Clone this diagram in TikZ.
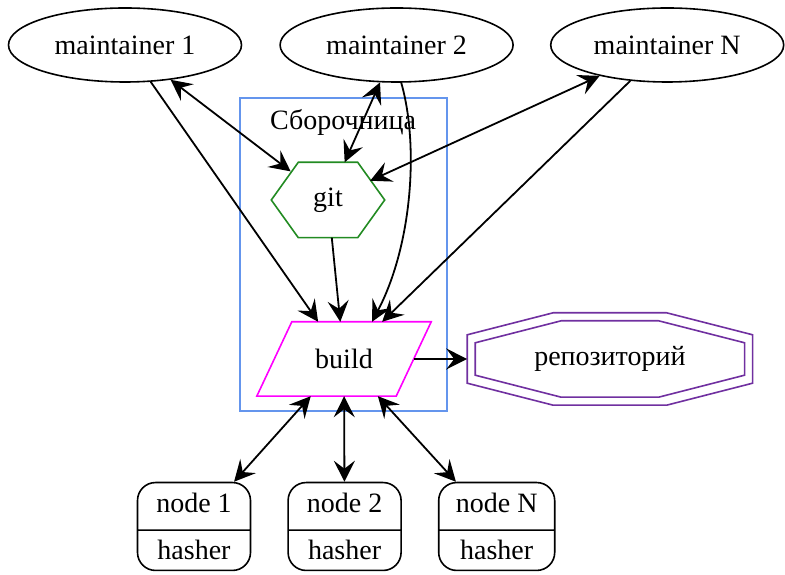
\documentclass[tikz,border=0pt]{standalone}
\usepackage{fontspec}
\setmainfont{Liberation Serif}
\usepackage{tikz}
\usetikzlibrary{positioning}
\usetikzlibrary{shapes.geometric,shapes.multipart,arrows.meta}
\definecolor{clusterblue}{RGB}{100,149,237}
\definecolor{gitgreen}{RGB}{34,139,34}
\definecolor{buildpink}{RGB}{255,0,255}
\definecolor{repopurple}{RGB}{112,48,160}

\tikzset{
  arr/.style={-{Stealth[length=21pt,width=21pt,inset=8pt]}, line width=1.8pt},
  both/.style={{Stealth[length=21pt,width=21pt,inset=8pt]}-{Stealth[length=21pt,width=21pt,inset=8pt]}, line width=1.8pt},
  maint/.style={ellipse, draw, line width=1.6pt, minimum width=233pt, minimum height=74pt, inner sep=0pt},
  hasher/.style={rectangle split, rectangle split parts=2, draw, line width=1.6pt, rounded corners=18pt,
    minimum width=113pt, text height=20pt, text depth=7pt, inner ysep=9.5pt},
  ghost/.style={inner sep=0pt},
}

\begin{document}
\begin{tikzpicture}[x=1pt, y=1pt, font=\fontsize{28}{33}\selectfont]
    \useasboundingbox (0,0) rectangle (785,575);

    \node(m1) [maint] at (125,530) {maintainer 1};
    \node(m2) [maint, right=37pt of m1] {maintainer 2};
    \node(mN) [maint, right=36pt of m2] {maintainer N};

    % cluster
    \draw[clusterblue, line width=1.6pt] (240,164) rectangle (447,477);
    \node(clab) at (343,453) {Сборочница};

    \node(git) [ghost, minimum width=113pt, minimum height=75pt] at (328,375) {git};
    \node(build) [ghost, minimum width=174pt, minimum height=74pt] at (344,216) {build};
    \node(repo) [ghost, minimum width=285pt, minimum height=92pt, right=36pt of build] {репозиторий};

    \node(n1) [hasher] at (194,48.5) {node 1\nodepart{two}hasher};
    \node(n2) [hasher, right=36pt of n1] {node 2\nodepart{two}hasher};
    \node(nN) [hasher, right=36pt of n2, minimum width=116pt] {node N\nodepart{two}hasher};

    \draw[gitgreen, line width=1.6pt] (git.west) -- ([xshift=27pt]git.north west)
      -- ([xshift=-27pt]git.north east) -- (git.east)
      -- ([xshift=-27pt]git.south east) -- ([xshift=27pt]git.south west) -- cycle;
    \draw[buildpink, line width=1.6pt] ([xshift=35pt]build.north west) -- (build.north east)
      -- ([xshift=-35pt]build.south east) -- (build.south west) -- cycle;
    \foreach \d in {0,8} {
      \draw[repopurple, line width=1.6pt]
        ([shift={(\d,-\d-22)}]repo.north west) -- ([shift={(\d+86,-\d)}]repo.north west)
        -- ([shift={(-\d-86,-\d)}]repo.north east) -- ([shift={(-\d,-\d-22)}]repo.north east)
        -- ([shift={(-\d,\d+22)}]repo.south east) -- ([shift={(-\d-86,\d)}]repo.south east)
        -- ([shift={(\d+86,\d)}]repo.south west) -- ([shift={(\d,\d+22)}]repo.south west) -- cycle;
    }

    \draw[arr] (m1) -- (build);
    \draw[both, shorten >=-15pt] (m1) -- (git);
    \draw[both] (m2) -- (git);
    \draw[arr] (m2.-83) .. controls +(18,-63) and +(40,76) .. ([xshift=28pt]build.north);
    \draw[both, shorten >=-16pt] (mN) -- (git);
    \draw[arr] (mN) -- (build);
    \draw[arr] (git) -- (build);
    \draw[arr] ([xshift=-17pt]build.east) -- (repo);

    \draw[both] (build) -- (n1);
    \draw[both] (build) -- (n2);
    \draw[both] (build) -- (nN);
  \end{tikzpicture}
\end{document}
